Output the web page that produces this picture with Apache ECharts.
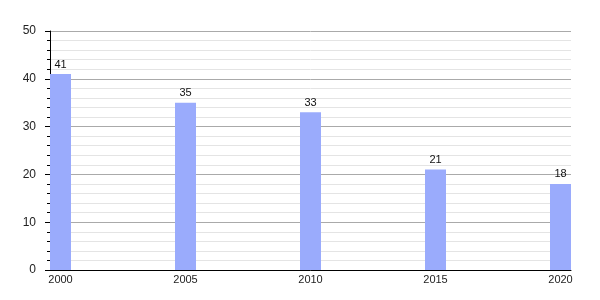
<!DOCTYPE html>
<html><head><meta charset="utf-8">
<script src="https://cdn.jsdelivr.net/npm/echarts@6/dist/echarts.min.js"></script>
<style>html,body{margin:0;padding:0;background:#fff}#c{width:600px;height:300px}</style>
</head><body><div id="c"></div>
<script>
const years = [2000, 2005, 2010, 2015, 2020];
const values = [41, 35, 33, 21, 18];
const yTicks = [0, 10, 20, 30, 40, 50];

const chart = echarts.init(document.getElementById('c'), null, {renderer: 'canvas'});
const font = 'Liberation Sans, Arial, sans-serif';
chart.setOption({
  animation: false,
  grid: {left: 50, right: 29, top: 31, bottom: 30},
  xAxis: {
    type: 'value', min: 1999.58, max: 2020.42,
    axisLine: {show: true, onZero: false, lineStyle: {color: '#000', width: 1}},
    axisTick: {show: false},
    splitLine: {show: false},
    axisLabel: {customValues: years, color: '#222', fontSize: 11, fontFamily: font, margin: 4,
      formatter: v => String(v)}
  },
  yAxis: {
    type: 'value', min: yTicks[0], max: yTicks[yTicks.length - 1], interval: 10,
    axisLine: {show: true, lineStyle: {color: '#000', width: 1}},
    axisTick: {show: true, length: 5, lineStyle: {color: '#000'}},
    minorTick: {show: true, splitNumber: 5, length: 3, lineStyle: {color: '#000'}},
    splitLine: {show: true, lineStyle: {color: '#aaaaaa', width: 1}},
    minorSplitLine: {show: true, lineStyle: {color: '#e4e4e4', width: 1}},
    axisLabel: {color: '#222', fontSize: 12, fontFamily: font, margin: 14}
  },
  series: [{
    type: 'bar',
    barWidth: 21,
    data: years.map((y, i) => [y, values[i]]),
    itemStyle: {color: '#9aabfc'},
    label: {show: true, position: 'top', distance: 4, color: '#111', fontSize: 11, fontFamily: font,
      formatter: p => String(p.value[1])}
  }]
});
</script></body></html>
